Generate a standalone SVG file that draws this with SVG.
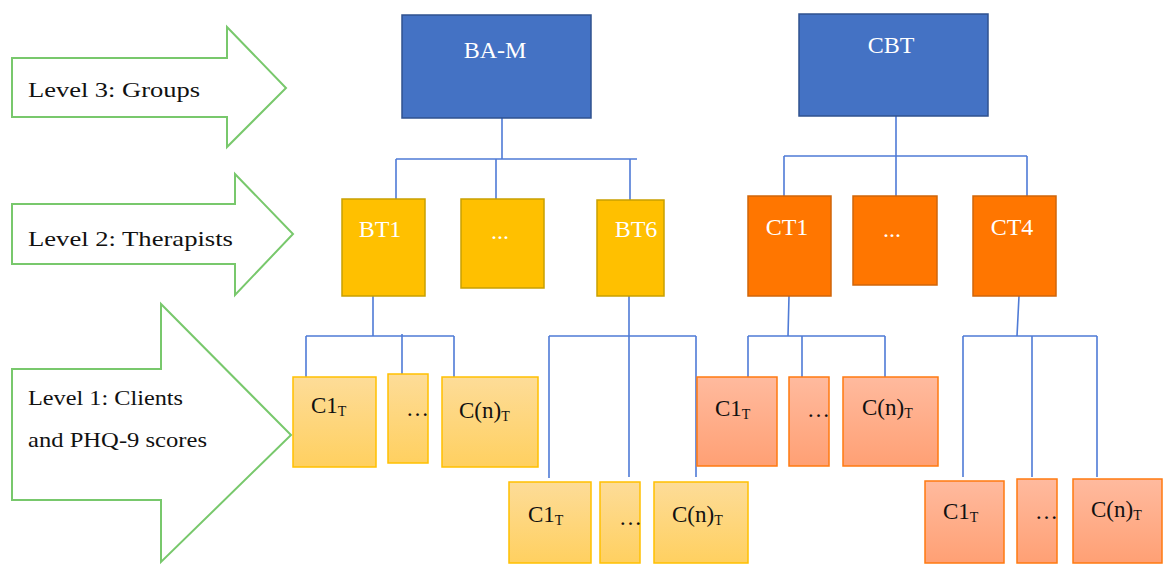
<svg xmlns="http://www.w3.org/2000/svg" width="1164" height="565" viewBox="0 0 1164 565">
<defs>
<linearGradient id="gy" x1="0" y1="0" x2="0" y2="1"><stop offset="0" stop-color="#FDDC98"/><stop offset="1" stop-color="#FFD060"/></linearGradient>
<linearGradient id="go" x1="0" y1="0" x2="0" y2="1"><stop offset="0" stop-color="#FFBA9E"/><stop offset="1" stop-color="#FFA074"/></linearGradient>
</defs>
<style>
.arrow{fill:#fff;stroke:#78C86C;stroke-width:2}
.lvl{font-size:21px;fill:#111}
.grp{fill:#4472C4;stroke:#2F528F;stroke-width:1.5}
.bt{fill:#FFC000;stroke:#C9A000;stroke-width:1.5}
.ct{fill:#FF7600;stroke:#D0660A;stroke-width:1.5}
.cy{fill:url(#gy);stroke:#FFC000;stroke-width:1.5}
.co{fill:url(#go);stroke:#FF7A10;stroke-width:1.5}
.wt{font-size:24px;fill:#fff;text-anchor:middle}
.ct1{font-size:23px;fill:#111}
.sub{font-size:14px}
.conn{fill:none;stroke:#4F7BD6;stroke-width:1.6}
</style>
<g font-family="Liberation Serif, DejaVu Serif, serif">
<g id="level3">
<polygon class="arrow" points="12,58 227,58 227,27 286,88 227,147 227,117 12,117"/>
<text class="lvl" x="28" y="97" textLength="172" lengthAdjust="spacingAndGlyphs">Level 3: Groups</text>
</g>
<g id="level2">
<polygon class="arrow" points="12,204 235,204 235,174 293,234 235,295 235,264 12,264"/>
<text class="lvl" x="28" y="246" textLength="205" lengthAdjust="spacingAndGlyphs">Level 2: Therapists</text>
</g>
<g id="level1">
<polygon class="arrow" points="12,369 161,369 161,304 291,435 161,562 161,500 12,500"/>
<text class="lvl" x="28" y="405" font-size="20" textLength="155" lengthAdjust="spacingAndGlyphs">Level 1: Clients</text>
<text class="lvl" x="28" y="447" font-size="20" textLength="179" lengthAdjust="spacingAndGlyphs">and PHQ-9 scores</text>
</g>
<g id="connectors">
<path class="conn" d="M502,118 V159 M396,159 H637 M396,159 V199 M496,159 V199 M630,159 V200"/>
<path class="conn" d="M896,116 V156 M784,156 H1027 M784,156 V196 M896,156 V196 M1027,156 V196"/>
<path class="conn" d="M373,296 V336 M306,336 H454 M306,336 V377 M402,334 V374 M454,336 V377"/>
<path class="conn" d="M629,296 V477 M549,336 H696 M549,336 V478 M696,336 V477"/>
<path class="conn" d="M789,296 L788,336 M748,336 H885 M748,336 V377 M802,336 V377 M885,336 V377"/>
<path class="conn" d="M1019,296 L1017,336 M963,336 H1097 M963,336 V477 M1032,336 V477 M1097,336 V477"/>
</g>
<g id="bam"><rect class="grp" x="402" y="15" width="189" height="103"/><text class="wt" x="495" y="58">BA-M</text></g>
<g id="cbt"><rect class="grp" x="799" y="14" width="189" height="102"/><text class="wt" x="891" y="53">CBT</text></g>
<g id="bt1"><rect class="bt" x="342" y="199" width="83" height="97"/><text class="wt" x="380" y="237">BT1</text></g>
<g id="btdots"><rect class="bt" x="461" y="199" width="83" height="89"/><text class="wt" x="500" y="239">...</text></g>
<g id="bt6"><rect class="bt" x="597" y="200" width="67" height="96"/><text class="wt" x="636" y="237">BT6</text></g>
<g id="ct1"><rect class="ct" x="748" y="196" width="83" height="100"/><text class="wt" x="787" y="235">CT1</text></g>
<g id="ctdots"><rect class="ct" x="853" y="196" width="84" height="89"/><text class="wt" x="892" y="237">...</text></g>
<g id="ct4"><rect class="ct" x="973" y="196" width="83" height="100"/><text class="wt" x="1012" y="235">CT4</text></g>
<g id="bt1-c1"><rect class="cy" x="293" y="377" width="83" height="90"/><text class="ct1" x="311" y="413">C1<tspan class="sub" dy="3">T</tspan></text></g>
<g id="bt1-dots"><rect class="cy" x="388" y="374" width="40" height="89"/><text class="ct1" x="406" y="416">…</text></g>
<g id="bt1-cn"><rect class="cy" x="442" y="377" width="96" height="90"/><text class="ct1" x="459" y="418">C(n)<tspan class="sub" dy="3">T</tspan></text></g>
<g id="bt6-c1"><rect class="cy" x="509" y="482" width="82" height="81"/><text class="ct1" x="528" y="522">C1<tspan class="sub" dy="3">T</tspan></text></g>
<g id="bt6-dots"><rect class="cy" x="600" y="482" width="40" height="81"/><text class="ct1" x="619" y="525">…</text></g>
<g id="bt6-cn"><rect class="cy" x="654" y="482" width="94" height="81"/><text class="ct1" x="672" y="522">C(n)<tspan class="sub" dy="3">T</tspan></text></g>
<g id="ct1-c1"><rect class="co" x="697" y="377" width="80" height="89"/><text class="ct1" x="715" y="416">C1<tspan class="sub" dy="3">T</tspan></text></g>
<g id="ct1-dots"><rect class="co" x="789" y="377" width="40" height="89"/><text class="ct1" x="807" y="417">…</text></g>
<g id="ct1-cn"><rect class="co" x="843" y="377" width="95" height="89"/><text class="ct1" x="862" y="415">C(n)<tspan class="sub" dy="3">T</tspan></text></g>
<g id="ct4-c1"><rect class="co" x="925" y="481" width="79" height="82"/><text class="ct1" x="943" y="519">C1<tspan class="sub" dy="3">T</tspan></text></g>
<g id="ct4-dots"><rect class="co" x="1017" y="479" width="40" height="84"/><text class="ct1" x="1035" y="519">…</text></g>
<g id="ct4-cn"><rect class="co" x="1073" y="479" width="89" height="84"/><text class="ct1" x="1091" y="517">C(n)<tspan class="sub" dy="3">T</tspan></text></g>
</g>
</svg>
